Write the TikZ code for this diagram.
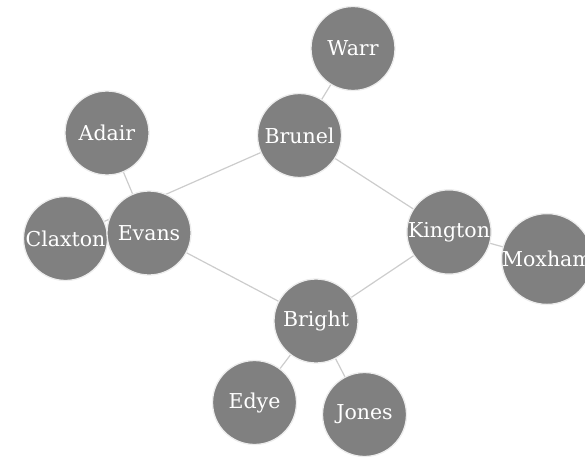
\documentclass[tikz,border=0pt]{standalone}
\usepackage{fontspec}
\setmainfont{DejaVu Serif}
\begin{document}
\begin{tikzpicture}[x=1pt,y=-1pt,
  person/.style={circle,draw=black!7,line width=1.3pt,fill=black!50,
    minimum size=84pt,inner sep=0pt,text=white,
    font=\fontsize{20.5}{24}\selectfont},
  link/.style={draw=black!20,line width=1.2pt}]
\useasboundingbox (0,0) rectangle (585,457);
\clip (0,0) rectangle (585,457);
% layout of the people
\coordinate (pWarr) at (353,48.5);
\coordinate (pBrunel) at (299.5,135.5);
\coordinate (pAdair) at (107,133);
\coordinate (pEvans) at (149,233);
\coordinate (pClaxton) at (65.5,238.5);
\coordinate (pKington) at (449,232);
\coordinate (pMoxham) at (547,259);
\coordinate (pBright) at (316,321);
\coordinate (pEdye) at (254.5,402.5);
\coordinate (pJones) at (364.5,414.5);
% links underneath
\draw[link] (pWarr) -- (pBrunel);
\draw[link] (pBrunel) -- (pClaxton);
\draw[link] (pBrunel) -- (pKington);
\draw[link] (pAdair) -- (pEvans);
\draw[link] (pEvans) -- (pBright);
\draw[link] (pKington) -- (pBright);
\draw[link] (pKington) -- (pMoxham);
\draw[link] (pBright) -- (pEdye);
\draw[link] (pBright) -- (pJones);
% people
\node[person] (Warr) at (pWarr) {Warr};
\node[person] (Brunel) at (pBrunel) {Brunel};
\node[person] (Adair) at (pAdair) {Adair};
\node[person] (Claxton) at (pClaxton) {Claxton};
\node[person] (Evans) at (pEvans) {Evans};
\node[person] (Kington) at (pKington) {Kington};
\node[person] (Moxham) at (pMoxham) {Moxham};
\node[person] (Bright) at (pBright) {Bright};
\node[person] (Edye) at (pEdye) {Edye};
\node[person] (Jones) at (pJones) {Jones};
\end{tikzpicture}
\end{document}
